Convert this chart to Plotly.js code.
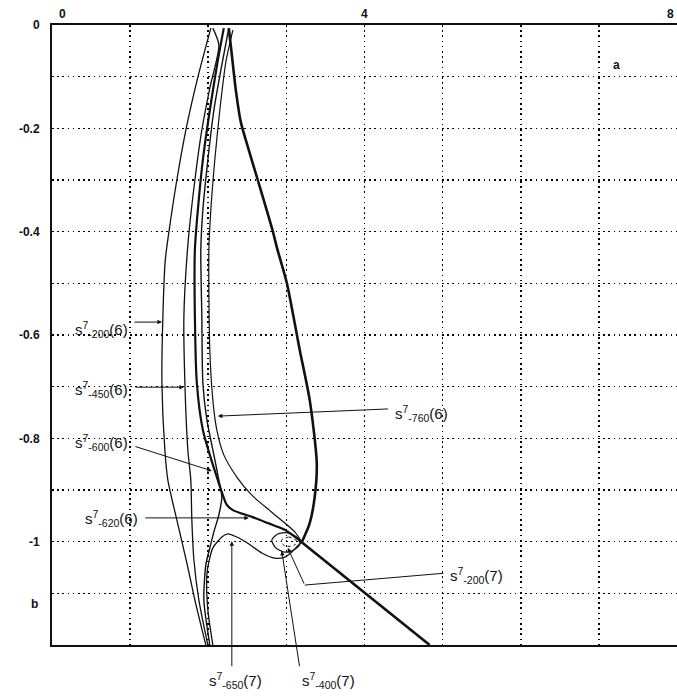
<!DOCTYPE html>
<html>
<head>
<meta charset="utf-8">
<script src="https://cdn.plot.ly/plotly-3.0.1.min.js"></script>
<style>html,body{margin:0;padding:0;background:#fff;}#chart{width:677px;height:700px;}</style>
</head>
<body>
<div id="chart"></div>
<script>
// ---- data (a, b) ----
const curveA_a = [2.033, 1.867, 1.714, 1.598, 1.500, 1.450, 1.419, 1.407, 1.445, 1.483, 1.598, 1.726, 1.829, 1.969];
const curveA_b = [-0.006, -0.101, -0.203, -0.300, -0.397, -0.455, -0.565, -0.693, -0.823, -0.881, -0.958, -1.041, -1.113, -1.200];

const curveB_a = [2.059, 2.136, 2.020, 1.918, 1.829, 1.739, 1.688, 1.701, 1.739, 1.777, 1.790, 1.816, 1.880, 1.995];
const curveB_b = [-0.006, -0.039, -0.122, -0.203, -0.300, -0.426, -0.565, -0.693, -0.823, -0.881, -0.958, -1.035, -1.113, -1.200];

const curveC_a = [2.199, 2.123, 2.020, 1.931, 1.867, 1.829, 1.829, 1.854, 1.931, 2.020, 2.110, 2.174, 2.238, 2.315, 2.558, 2.762, 2.980, 3.197];
const curveC_b = [-0.006, -0.068, -0.165, -0.261, -0.358, -0.435, -0.565, -0.693, -0.784, -0.832, -0.875, -0.904, -0.929, -0.939, -0.952, -0.964, -0.977, -1.001];

const curveD_a = [2.263, 2.174, 2.072, 1.995, 1.931, 1.905, 1.918, 1.931, 1.982, 2.072, 2.136, 2.174, 2.136, 2.072, 2.020, 1.969, 1.944, 2.020];
const curveD_b = [-0.006, -0.077, -0.165, -0.261, -0.358, -0.435, -0.565, -0.693, -0.764, -0.832, -0.881, -0.913, -0.948, -0.981, -1.012, -1.045, -1.113, -1.200];

const curveE_a = [2.315, 2.225, 2.148, 2.084, 2.033, 2.008, 2.020, 2.059, 2.110, 2.199, 2.366, 2.558, 2.813, 3.107, 3.197];
const curveE_b = [-0.010, -0.072, -0.165, -0.261, -0.358, -0.435, -0.629, -0.726, -0.784, -0.832, -0.875, -0.910, -0.943, -0.981, -1.001];

const curveR_a = [2.263, 2.302, 2.353, 2.417, 2.519, 2.634, 2.826, 2.877, 3.005, 3.171, 3.299, 3.389, 3.363, 3.299, 3.197];
const curveR_b = [-0.006, -0.058, -0.126, -0.188, -0.242, -0.300, -0.399, -0.430, -0.499, -0.629, -0.726, -0.848, -0.913, -0.964, -1.001];

const lineS_a = [3.197, 4.834];
const lineS_b = [-1.001, -1.200];

const curveN_a = [2.059, 1.995, 1.982, 2.008, 2.059, 2.174, 2.251, 2.366, 2.506, 2.685, 2.852, 2.980, 3.069, 3.146, 3.197];
const curveN_b = [-1.200, -1.132, -1.064, -1.039, -1.012, -0.991, -0.985, -0.991, -1.003, -1.022, -1.032, -1.030, -1.020, -1.008, -1.001];

const loopL_a = [2.813, 2.890, 3.018, 3.146, 3.171, 3.069, 2.967, 2.864, 2.813];
const loopL_b = [-0.997, -0.985, -0.983, -0.993, -1.006, -1.018, -1.020, -1.012, -0.997];

const loopL2_a = [2.928, 3.031, 3.133, 3.095, 2.980, 2.928];
const loopL2_b = [-0.999, -0.991, -0.999, -1.008, -1.008, -0.999];

// axis ticks
const xRange = [0, 8];
const yRange = [-1.2, 0];
const xGridVals = [0, 1, 2, 3, 4, 5, 6, 7, 8];
const xLabelVals = [0, 4, 8];
const xLabelText = ['0', '4', '8'];
const yTickVals = [0, -0.1, -0.2, -0.3, -0.4, -0.5, -0.6, -0.7, -0.8, -0.9, -1.0, -1.1, -1.2];
const yTickText = ['0', '', '-0.2', '', '-0.4', '', '-0.6', '', '-0.8', '', '-1', '', ''];

// curve labels: text, label centre, leader tail, leader tip (a, b units)
const labelText = [
  's<sup>7</sup><sub>-200</sub>(6)',
  's<sup>7</sup><sub>-450</sub>(6)',
  's<sup>7</sup><sub>-600</sub>(6)',
  's<sup>7</sup><sub>-620</sub>(6)',
  's<sup>7</sup><sub>-760</sub>(6)',
  's<sup>7</sup><sub>-200</sub>(7)',
  's<sup>7</sup><sub>-650</sub>(7)',
  's<sup>7</sup><sub>-400</sub>(7)'
];
const labelA = [0.639, 0.639, 0.639, 0.767, 4.731, 5.435, 2.353, 3.542];
const labelB = [-0.590, -0.706, -0.809, -0.956, -0.751, -1.066, -1.268, -1.268];
const tailA = [1.036, 1.049, 1.049, 1.176, 4.322, 3.235, 2.302, 3.171];
const tailB = [-0.575, -0.701, -0.815, -0.954, -0.743, -1.084, -1.244, -1.244];
const tipA  = [1.407, 1.688, 2.046, 2.519, 2.123, 3.018, 2.302, 2.941];
const tipB  = [-0.575, -0.701, -0.863, -0.954, -0.757, -1.012, -0.999, -1.018];
// extra leader segment (label of s-200(7) to its kink)
const kinkFromA = [5.026];
const kinkFromB = [-1.061];
// axis-name letters
const axisLetters = ['a', 'b'];
const axisLetterA = [7.29, -0.29];
const axisLetterB = [-0.06, -1.138];

function px(a) { return (a - xRange[0]) / (xRange[1] - xRange[0]); }
function py(b) { return (b - yRange[0]) / (yRange[1] - yRange[0]); }

function tr(a, b, w, dash) {
  return {x: a, y: b, type: 'scatter', mode: 'lines', hoverinfo: 'skip', cliponaxis: false,
          line: {color: '#111', width: w, shape: 'spline', smoothing: 0.7, dash: dash || 'solid'}};
}
const traces = [
  tr(curveA_a, curveA_b, 1.3),
  tr(curveB_a, curveB_b, 1.3),
  tr(curveC_a, curveC_b, 2.2),
  tr(curveD_a, curveD_b, 1.4),
  tr(curveE_a, curveE_b, 1.2),
  tr(curveR_a, curveR_b, 2.6),
  {x: lineS_a, y: lineS_b, type: 'scatter', mode: 'lines', hoverinfo: 'skip', line: {color: '#111', width: 2.6}},
  tr(curveN_a, curveN_b, 1.3),
  tr(loopL_a, loopL_b, 1.2),
  tr(loopL2_a, loopL2_b, 1.0, 'dot')
];

const labelFont = {family: 'Liberation Sans Narrow, Liberation Sans, Arial, sans-serif', size: 15, color: '#111'};
const tickFont = {family: 'Liberation Sans, Arial, sans-serif', size: 12, color: '#111', weight: 'bold'};
const annotations = [];
for (let i = 0; i < labelText.length; i++) {
  annotations.push({x: px(labelA[i]), y: py(labelB[i]), xref: 'paper', yref: 'paper', text: labelText[i],
                    showarrow: false, font: labelFont, xanchor: 'center', yanchor: 'middle'});
  annotations.push({x: tipA[i], y: tipB[i], ax: tailA[i], ay: tailB[i], xref: 'x', yref: 'y',
                    axref: 'x', ayref: 'y', text: '', showarrow: true, arrowhead: 2,
                    arrowsize: 0.9, arrowwidth: 1, arrowcolor: '#111', standoff: 0, startstandoff: 0});
}
annotations.push({x: tailA[5], y: tailB[5], ax: kinkFromA[0], ay: kinkFromB[0], xref: 'x', yref: 'y',
                  axref: 'x', ayref: 'y', text: '', showarrow: true, arrowhead: 0,
                  arrowwidth: 1, arrowcolor: '#111', standoff: 0});
for (let i = 0; i < axisLetters.length; i++) {
  annotations.push({x: px(axisLetterA[i]), y: py(axisLetterB[i]), xref: 'paper', yref: 'paper',
                    text: axisLetters[i], showarrow: false, font: tickFont});
}
for (let i = 0; i < xLabelVals.length; i++) {
  annotations.push({x: px(xLabelVals[i]), y: 1, xref: 'paper', yref: 'paper', text: xLabelText[i],
                    showarrow: false, font: tickFont, xanchor: (i === 2 ? 'right' : 'center'), yanchor: 'bottom',
                    yshift: 2, xshift: (i === 0 ? 10 : (i === 2 ? -1 : 0))});
}

const layout = {
  width: 677, height: 700,
  margin: {l: 52, r: 0, t: 25, b: 55, pad: 0},
  paper_bgcolor: '#fff', plot_bgcolor: '#fff',
  showlegend: false,
  xaxis: {
    range: xRange, side: 'top', tickvals: xGridVals, showticklabels: false,
    showgrid: true, gridcolor: '#000', gridwidth: 1.6, griddash: '1.6px,3.6px',
    zeroline: false, showline: true, linecolor: '#111', linewidth: 2, mirror: true,
    ticks: '', fixedrange: true
  },
  yaxis: {
    range: yRange, tickvals: yTickVals, ticktext: yTickText,
    showgrid: true, gridcolor: '#000', gridwidth: 1.6, griddash: '1.6px,3.6px',
    zeroline: false, showline: true, linecolor: '#111', linewidth: 2, mirror: false,
    ticks: '', tickfont: tickFont, ticklabelstandoff: 8, fixedrange: true
  },
  annotations: annotations
};
Plotly.newPlot('chart', traces, layout, {staticPlot: true, displayModeBar: false});
</script>
</body>
</html>
